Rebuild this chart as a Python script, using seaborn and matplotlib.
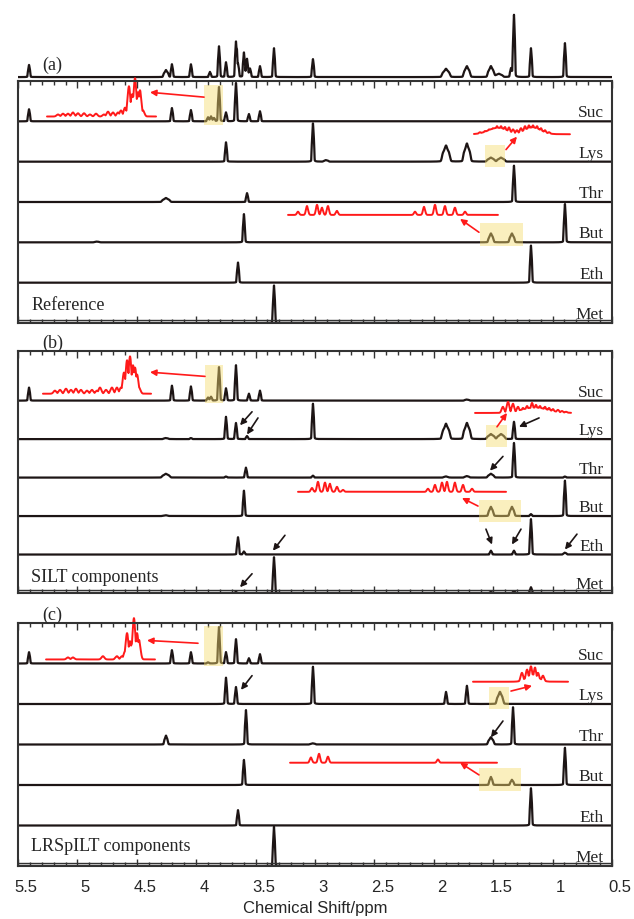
import numpy as np
import seaborn as sns
import matplotlib.pyplot as plt
from matplotlib.patches import Rectangle
from matplotlib.ticker import MultipleLocator
from matplotlib.transforms import blended_transform_factory, ScaledTranslation

W, H = 634, 920

row_names = ['Suc', 'Lys', 'Thr', 'But', 'Eth', 'Met']
tick_ppm = [5.5, 5, 4.5, 4, 3.5, 3, 2.5, 2, 1.5, 1, 0.5]

# peaks: (ppm, height as fraction of a row, optional half width in ppm)
mix = [(5.407, .19), (4.254, .11, .008), (4.204, .20), (4.044, .20), (3.884, .08), (3.808, .48),
       (3.749, .23), (3.665, .55), (3.648, .20), (3.598, .38), (3.572, .28), (3.547, .13),
       (3.463, .17), (3.345, .45), (3.017, .28), (1.897, .13, .012), (1.721, .17, .010),
       (1.519, .17, .010), (1.451, .05, .012), (1.350, .13), (1.325, .97), (1.182, .45), (0.896, .53)]

a_suc = [(5.407, .30), (4.204, .33), (4.044, .28), (3.900, .10), (3.875, .12), (3.850, .08),
         (3.808, .85), (3.749, .22), (3.665, .95), (3.556, .18), (3.463, .25)]
a_lys = [(3.749, .48), (3.017, .95), (2.907, .04, .008), (1.897, .40, .012), (1.721, .45, .011),
         (1.519, .10, .012), (1.434, .10, .012)]
a_thr = [(4.254, .10, .012), (3.572, .22), (1.325, .90)]
a_but = [(4.835, .02, .008), (3.598, .70), (1.519, .22, .008), (1.342, .22, .008), (0.896, .95)]
a_eth = [(3.648, .50), (1.182, .92)]
a_met = [(3.345, .93)]

b_suc = [(5.407, .34), (4.204, .39), (4.044, .37), (3.900, .08), (3.875, .10), (3.808, .87),
         (3.749, .32), (3.665, .92), (3.556, .18), (3.463, .26), (1.721, .03, .008)]
b_lys = [(4.254, .03, .008), (4.044, .03), (3.749, .58), (3.665, .42), (3.572, .08), (3.017, .92),
         (1.897, .40, .012), (1.721, .42, .011), (1.519, .13, .012), (1.434, .13, .012), (1.325, .45)]
b_thr = [(4.254, .10, .012), (3.749, .03), (3.581, .26), (3.017, .05), (1.897, .03, .008),
         (1.721, .04, .008), (1.519, .10, .010), (1.325, .90), (0.896, .03)]
b_but = [(4.254, .02, .008), (3.598, .66), (1.519, .24, .008), (1.342, .24, .008), (1.182, .05),
         (0.896, .92)]
b_eth = [(3.648, .45), (3.598, .08), (1.519, .10), (1.325, .10), (1.182, .92), (0.896, .05, .006)]
b_met = [(3.665, .03), (3.345, .93), (1.519, .03), (1.325, .05), (1.182, .15)]

c_suc = [(5.407, .28), (4.204, .33), (4.044, .28), (3.900, .03), (3.808, .90), (3.749, .28),
         (3.665, .60), (3.556, .13), (3.463, .23)]
c_lys = [(3.749, .65), (3.665, .42), (3.017, .92), (1.897, .30), (1.721, .45), (1.443, .30, .010)]
c_thr = [(4.254, .22, .006), (3.581, .85), (3.017, .03, .008), (1.519, .18, .009), (1.333, .92)]
c_but = [(3.598, .62), (1.519, .20, .006), (1.342, .13, .006), (0.896, .92)]
c_eth = [(3.648, .38), (1.182, .92)]
c_met = [(3.345, .97)]

# red expansions: (start ppm, end ppm, lift above row) and their peaks (ppm, height, optional sigma)
a_suc_span = (5.256, 4.338, .12)
a_suc_zoom = [(5.163, .05), (5.121, .07), (5.079, .07), (5.037, .10), (4.995, .08), (4.944, .08),
              (4.894, .05), (4.843, .07), (4.776, .05), (4.742, .12), (4.700, .10), (4.658, .10),
              (4.633, .15), (4.599, .22), (4.566, .75), (4.540, .55), (4.515, .95), (4.490, .60),
              (4.473, .65), (4.448, .15), (4.525, .50, .03)]
a_lys_span = (1.662, 0.854, .68)
a_lys_zoom = [(1.611, .05), (1.569, .08), (1.535, .12), (1.502, .15), (1.468, .20), (1.434, .20),
              (1.401, .18), (1.367, .17), (1.333, .12), (1.300, .10), (1.266, .15), (1.232, .20),
              (1.199, .22), (1.165, .22), (1.131, .20), (1.098, .15), (1.064, .10), (1.030, .05),
              (1.46, .16, .08), (1.17, .17, .07)]
a_but_span = (3.227, 1.460, .68)
a_but_zoom = [(3.143, .08), (3.067, .22), (2.983, .25), (2.941, .18), (2.891, .22), (2.815, .10),
              (2.158, .08), (2.082, .20), (1.990, .25), (1.906, .22), (1.822, .18), (1.737, .08)]

b_suc_span = (5.290, 4.380, .18)
b_suc_zoom = [(5.189, .08), (5.146, .10), (5.096, .13), (5.054, .10), (5.012, .13), (4.970, .10),
              (4.919, .08), (4.877, .10), (4.835, .08), (4.810, .16), (4.759, .10), (4.709, .16),
              (4.667, .16), (4.633, .16), (4.608, .55), (4.582, .87), (4.557, .97), (4.532, .74),
              (4.515, .68), (4.498, .50), (4.481, .16), (4.55, .45, .03)]
b_lys_span = (1.653, 0.845, .68)
b_lys_zoom = [(1.418, .16), (1.375, .29), (1.333, .24), (1.291, .16), (1.249, .13), (1.215, .18),
              (1.173, .26), (1.140, .21), (1.106, .18), (1.064, .16), (1.030, .13), (0.997, .10),
              (0.955, .08), (0.921, .05), (0.887, .03), (1.15, .14, .11)]
b_but_span = (3.143, 1.392, .63)
b_but_zoom = [(3.025, .10), (2.975, .26), (2.916, .24), (2.874, .21), (2.815, .13), (2.764, .05),
              (2.049, .08), (1.990, .18), (1.931, .24), (1.889, .26), (1.822, .24), (1.754, .18),
              (1.678, .08)]

c_suc_span = (5.264, 4.347, .10)
c_suc_zoom = [(5.079, .05), (5.037, .05), (4.785, .08), (4.667, .08), (4.625, .08), (4.599, .20),
              (4.582, .65), (4.557, .45), (4.524, 1.02), (4.498, .65), (4.481, .48), (4.53, .42, .028)]
c_lys_span = (1.670, 0.870, .55)
c_lys_zoom = [(1.258, .22), (1.215, .30), (1.182, .38), (1.148, .35), (1.123, .22), (1.081, .15),
              (1.17, .18, .05)]
c_but_span = (3.210, 1.468, .55)
c_but_zoom = [(3.034, .13), (2.966, .22), (2.891, .15), (1.965, .08)]

# highlighted regions: (row, ppm left, ppm right, y low, y high)
a_boxes = [(0, 3.934, 3.774, -.10, .90), (1, 1.569, 1.401, -.12, .42), (3, 1.611, 1.249, -.08, .48)]
b_boxes = [(0, 3.926, 3.774, -.05, .92), (1, 1.561, 1.384, -.20, .37), (3, 1.620, 1.266, -.16, .42)]
c_boxes = [(0, 3.934, 3.774, -.05, .92), (1, 1.535, 1.367, -.12, .42), (3, 1.620, 1.266, -.15, .42)]

# arrows: (row, from ppm, from y, to ppm, to y)
a_red = [(0, 3.934, .60, 4.389, .72), (1, 1.392, .30, 1.300, .62), (3, 1.620, .25, 1.779, .58)]
b_red = [(0, 3.926, .63, 4.389, .74), (1, 1.468, .32, 1.384, .68), (3, 1.628, .26, 1.763, .47)]
c_red = [(0, 3.985, .50, 4.414, .57), (1, 1.350, .32, 1.173, .45), (3, 1.620, .25, 1.779, .55)]
b_black = [(1, 3.530, .71, 3.631, .36), (1, 3.480, .55, 3.572, .12), (1, 1.114, .55, 1.283, .32),
           (2, 1.418, .55, 1.527, .18), (4, 3.253, .50, 3.354, .10), (4, 1.561, .66, 1.510, .26),
           (4, 1.266, .66, 1.342, .26), (4, 0.795, .53, 0.896, .13), (5, 3.530, .50, 3.631, .15)]
c_black = [(1, 3.530, .70, 3.623, .35), (2, 1.418, .58, 1.519, .18)]

panels = [
    dict(tag='(a)', note='Reference', note_y=.35, top=82, bottom=324, ymax=6.0,
         rows=[a_suc, a_lys, a_thr, a_but, a_eth, a_met],
         zooms=[(0, a_suc_span, a_suc_zoom, .012), (1, a_lys_span, a_lys_zoom, .011),
                (3, a_but_span, a_but_zoom, .009)],
         boxes=a_boxes, red=a_red, black=[]),
    dict(tag='(b)', note='SILT components', note_y=.31, top=352, bottom=594, ymax=6.29,
         rows=[b_suc, b_lys, b_thr, b_but, b_eth, b_met],
         zooms=[(0, b_suc_span, b_suc_zoom, .012), (1, b_lys_span, b_lys_zoom, .011),
                (3, b_but_span, b_but_zoom, .009)],
         boxes=b_boxes, red=b_red, black=b_black),
    dict(tag='(c)', note='LRSpILT components', note_y=.40, top=624, bottom=867, ymax=6.0,
         rows=[c_suc, c_lys, c_thr, c_but, c_eth, c_met],
         zooms=[(0, c_suc_span, c_suc_zoom, .012), (1, c_lys_span, c_lys_zoom, .011),
                (3, c_but_span, c_but_zoom, .009)],
         boxes=c_boxes, red=c_red, black=c_black),
]
tag_y = [65, 343, 615]

sns.set_style('white')
plt.rcParams['font.family'] = ['Liberation Sans', 'DejaVu Sans']
SERIF = ['Liberation Serif', 'DejaVu Serif']
INK = '#1d1515'
RED = '#ff1a1a'

x = np.linspace(0.5, 5.5, 12001)


def spectrum(peaks):
    # narrow spike sitting on a flat-topped base, like an unresolved multiplet
    y = np.zeros_like(x)
    for p in peaks:
        c, h = p[0], p[1]
        w = p[2] if len(p) > 2 else 0.004
        y += h * (0.45 * w**2 / ((x - c)**2 + w**2) + 0.55 * np.exp(-((x - c) / (3.0 * w))**6))
    return y


def zoom_curve(span, peaks, sigma):
    x0, x1, lift = span
    xs = np.linspace(x1, x0, 2500)
    ys = np.zeros_like(xs)
    for p in peaks:
        s = p[2] if len(p) > 2 else sigma
        ys = np.maximum(ys, p[1] * np.exp(-0.5 * ((xs - p[0]) / s)**2))
    return xs, lift + ys


def line(ax, xs, ys, color, lw, clip=True):
    sns.lineplot(x=xs, y=ys, ax=ax, color=color, linewidth=lw, estimator=None, sort=False)
    ax.lines[-1].set_clip_on(clip)


fig = plt.figure(figsize=(W / 100, H / 100), dpi=100)
fig.patch.set_facecolor('white')


def add_axes(top, bottom):
    return fig.add_axes([18 / W, 1 - bottom / H, 594 / W, (bottom - top) / H])


# mixture spectrum on top
ax0 = add_axes(14, 80)
line(ax0, x, spectrum(mix), INK, 1.6)
ax0.set_xlim(5.5, 0.5)
ax0.set_ylim(-0.03, 1.0)
ax0.axis('off')

for k, pan in enumerate(panels):
    ax = add_axes(pan['top'], pan['bottom'])
    blend = blended_transform_factory(ax.transAxes, ax.transData)
    for r, peaks in enumerate(pan['rows']):
        base = 5 - r
        line(ax, x, base + spectrum(peaks), INK, 1.6)
        ax.text(0.986, base + 0.12, row_names[r], transform=blend, ha='right', va='baseline',
                family=SERIF, fontsize=12.5)
    for r, span, peaks, sig in pan['zooms']:
        xs, ys = zoom_curve(span, peaks, sig)
        line(ax, xs, 5 - r + ys, RED, 1.4, clip=False)
    for r, p0, p1, y0, y1 in pan['boxes']:
        ax.add_patch(Rectangle((p1, 5 - r + y0), p0 - p1, y1 - y0, facecolor='#f5dc70',
                               edgecolor='none', alpha=0.45, zorder=3, clip_on=False))
    for arrows, col in ((pan['red'], RED), (pan['black'], INK)):
        for r, xa, ya, xb, yb in arrows:
            ax.annotate('', xy=(xb, 5 - r + yb), xytext=(xa, 5 - r + ya), zorder=4,
                        annotation_clip=False,
                        arrowprops=dict(arrowstyle='-|>', color=col, lw=1.2, mutation_scale=9,
                                        shrinkA=0, shrinkB=0))
    ax.text(0.022, pan['note_y'], pan['note'], transform=blend, family=SERIF, fontsize=13,
            va='baseline')
    fig.text(42 / W, 1 - tag_y[k] / H, pan['tag'], family=SERIF, fontsize=13, va='center')

    ax.set_xlim(5.5, 0.5)
    ax.set_ylim(0, pan['ymax'])
    ax.set_yticks([])
    ax.set_xticks(tick_ppm)
    ax.xaxis.set_minor_locator(MultipleLocator(0.1))
    ax.tick_params(axis='x', which='both', direction='in', top=True, bottom=True,
                   color='#333333', width=1.0)
    ax.tick_params(axis='x', which='major', length=5)
    ax.tick_params(axis='x', which='minor', length=3)
    for s in ax.spines.values():
        s.set_color('#333333')
        s.set_linewidth(1.5)
    band = 3.5 / (pan['bottom'] - pan['top'])
    ax.plot([0, 1], [band, band], transform=ax.transAxes, color='#333333', lw=1.0)
    if k == 2:
        ax.set_xticklabels([f'{t:g}' for t in tick_ppm], fontsize=12)
        ax.tick_params(axis='x', which='major', pad=9)
        ax.set_xlabel('Chemical Shift/ppm', fontsize=12, labelpad=5)
        # the printed numbers sit a few pixels right of the frame ticks in the original
        shift = ScaledTranslation(8 / 100, 0, fig.dpi_scale_trans)
        for lbl in ax.get_xticklabels():
            lbl.set_transform(lbl.get_transform() + shift)
    else:
        ax.tick_params(axis='x', labelbottom=False)

fig.savefig('out.png', dpi=100, facecolor='white')
